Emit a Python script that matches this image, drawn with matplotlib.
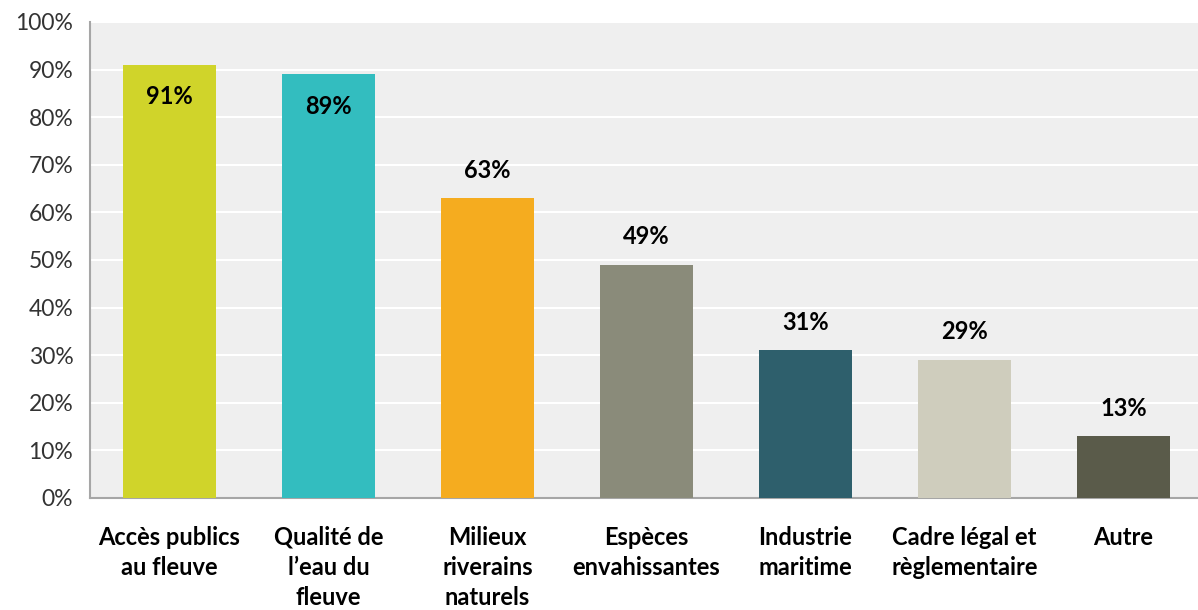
import matplotlib.pyplot as plt
from matplotlib.ticker import FuncFormatter

plt.rcParams['font.family'] = ['Lato', 'DejaVu Sans']

# Réponses par thème (en %)
categories = ["Accès publics\nau fleuve", "Qualité de\nl\u2019eau du\nfleuve",
              "Milieux\nriverains\nnaturels", "Espèces\nenvahissantes",
              "Industrie\nmaritime", "Cadre légal et\nrèglementaire", "Autre"]
values = [91, 89, 63, 49, 31, 29, 13]
colors = ["#d0d42a", "#33bdbf", "#f5ac1f", "#8a8b7a", "#2e5f6c", "#cfcdbd", "#5a5b4a"]

fig = plt.figure(figsize=(11.98, 6.10), dpi=100)
ax = fig.add_axes([90 / 1198, 112 / 610, 1108 / 1198, 476 / 610])
ax.set_facecolor("#efefef")

x = range(len(values))
bars = ax.bar(x, values, width=0.59, color=colors, zorder=3)

for xi, v in zip(x, values):
    # les deux plus hautes valeurs sont écrites dans la barre
    dy = -32 if v > 85 else 28
    ax.annotate(f"{v}%", (xi, v), xytext=(0, dy), textcoords="offset pixels",
                ha="center", va="center", fontsize=17, fontweight="bold", color="black")

ax.set_ylim(0, 100)
ax.set_yticks(range(0, 101, 10))
ax.yaxis.set_major_formatter(FuncFormatter(lambda v, _: f"{v:.0f}%"))
ax.set_xlim(-0.5, 6.5 - 5 / 159)
ax.set_xticks(list(x))
ax.set_xticklabels(categories, fontsize=17, fontweight="bold", linespacing=1.38, va="top")
ax.tick_params(axis="x", length=0, pad=20)
ax.tick_params(axis="y", length=0, pad=12, labelsize=16.5, labelcolor="#333333")

ax.grid(axis="y", color="white", linewidth=1.5, zorder=0)
for side in ("top", "right"):
    ax.spines[side].set_visible(False)
for side in ("left", "bottom"):
    ax.spines[side].set_color("#a6a6a6")
    ax.spines[side].set_linewidth(1.5)

fig.savefig("out.png", dpi=100)
